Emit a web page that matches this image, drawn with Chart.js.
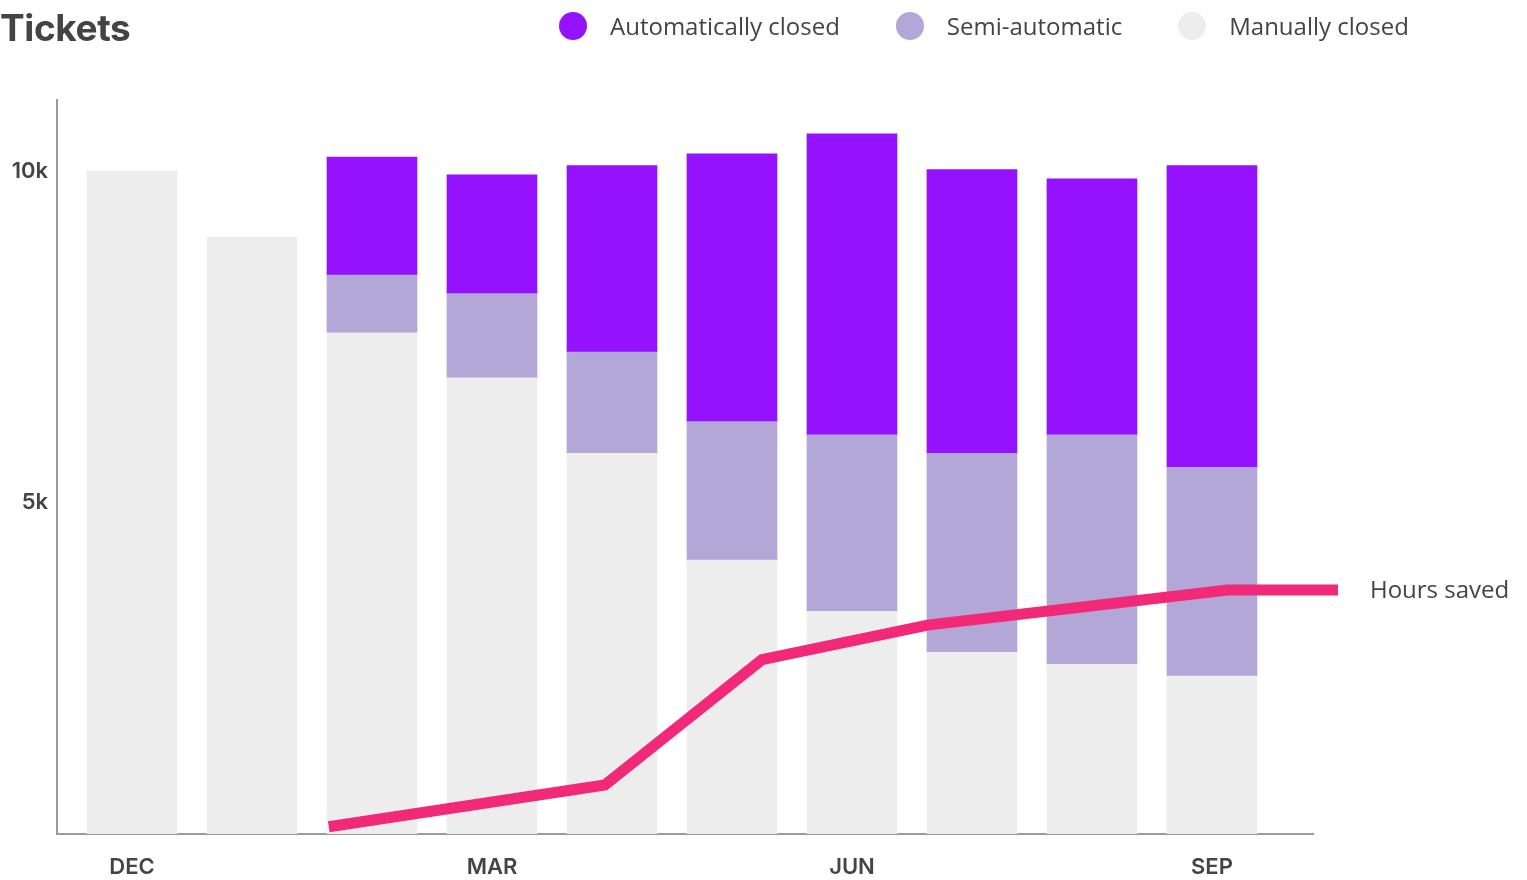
<!DOCTYPE html>
<html><head><meta charset="utf-8">
<script src="https://cdn.jsdelivr.net/npm/chart.js@4"></script>
<style>
html,body{margin:0;padding:0;background:#fff;width:1527px;height:880px;overflow:hidden}
#wrap{position:relative;width:1527px;height:880px}
#c{position:absolute;left:0;top:0}
#title{position:absolute;left:0;top:3px;font:700 37px Inter,"Noto Sans",sans-serif;color:#444;margin:0;line-height:50px;letter-spacing:-0.4px}
#legend{position:absolute;left:559px;top:8px;display:flex;gap:56px;font:24px "Open Sans",sans-serif;color:#444;line-height:36px}
.item{display:flex;align-items:center}
.dot{width:28px;height:28px;border-radius:50%;margin-right:23px;flex:none}
</style></head>
<body><div id="wrap"><canvas id="c" width="1527" height="880"></canvas>
<h1 id="title">Tickets</h1><div id="legend"></div></div>
<script>
const months = ['DEC','JAN','FEB','MAR','APR','MAY','JUN','JUL','AUG','SEP'];
const tickIdx = [0,3,6,9];
const seriesNames = ['Automatically closed','Semi-automatic','Manually closed'];
const seriesColors = ['#9412FD','#B3A7D8','#EDEDED'];
const manual = [10.0,9.0,7.56,6.88,5.74,4.13,3.36,2.74,2.56,2.38];
const semi   = [null,null,0.87,1.27,1.53,2.09,2.66,3.00,3.46,3.15];
const auto   = [null,null,1.78,1.79,2.81,4.04,4.54,4.28,3.86,4.55];
const hoursX = [1.64,3.94,5.25,6.63,9.13,10.05];
const hoursY = [0.11,0.74,2.63,3.15,3.68,3.68];
const hoursLabel = 'Hours saved';
const yTicks = [5,10];

const toPts = arr => arr.map((v,i)=>({x:i,y:v}));

// HTML legend
const lg = document.getElementById('legend');
seriesNames.forEach((n,i)=>{
  const it=document.createElement('div');it.className='item';
  const d=document.createElement('span');d.className='dot';d.style.background=seriesColors[i];
  const t=document.createElement('span');t.textContent=n;
  it.appendChild(d);it.appendChild(t);lg.appendChild(it);
});

const endLabel = {
  id:'endLabel',
  afterDatasetsDraw(chart){
    const meta = chart.getDatasetMeta(3);
    const p = meta.data[meta.data.length-1];
    const ctx = chart.ctx;
    ctx.save();
    ctx.font = '24px "Open Sans"';
    ctx.fillStyle = '#444';
    ctx.textBaseline = 'middle';
    ctx.fillText(hoursLabel, p.x + 32, p.y + 1);
    ctx.restore();
  }
};

const axisFont = {family:'Inter', weight:'600', size:22};

new Chart(document.getElementById('c'), {
  type:'bar',
  data:{
    datasets:[
      {label:'Manually closed', data:toPts(manual), backgroundColor:seriesColors[2], barThickness:90},
      {label:'Semi-automatic', data:toPts(semi), backgroundColor:seriesColors[1], barThickness:90},
      {label:'Automatically closed', data:toPts(auto), backgroundColor:seriesColors[0], barThickness:90},
      {type:'line', label:hoursLabel, data:hoursX.map((x,i)=>({x, y:hoursY[i]})), yAxisID:'y2',
       borderColor:'#F22878', borderWidth:11, pointRadius:0, tension:0, clip:false,
       borderJoinStyle:'miter', borderCapStyle:'butt', order:-1}
    ]
  },
  options:{
    responsive:false, animation:false,
    layout:{padding:{top:100,right:214,left:0,bottom:0}},
    plugins:{legend:{display:false}, title:{display:false}, tooltip:{enabled:false}},
    scales:{
      x:{type:'linear', min:-0.625, max:9.842, stacked:true, offset:false,
        grid:{display:false, drawTicks:false}, border:{color:'#9a9a9a', width:2},
        afterBuildTicks(s){ s.ticks = tickIdx.map(v=>({value:v})); },
        ticks:{callback:v=>months[v], font:axisFont, color:'#444', padding:20, maxRotation:0, autoSkip:false},
        afterFit(s){ s.height = 46; }
      },
      y:{min:0, max:11.07, stacked:true,
        grid:{display:false, drawTicks:false}, border:{color:'#9a9a9a', width:2},
        afterBuildTicks(s){ s.ticks = yTicks.map(v=>({value:v})); },
        ticks:{callback:v=>v+'k', font:axisFont, color:'#444', padding:9},
        afterFit(s){ s.width = 57; }
      },
      y2:{display:false, min:0, max:11.07}
    }
  },
  plugins:[endLabel]
});
</script></body></html>
